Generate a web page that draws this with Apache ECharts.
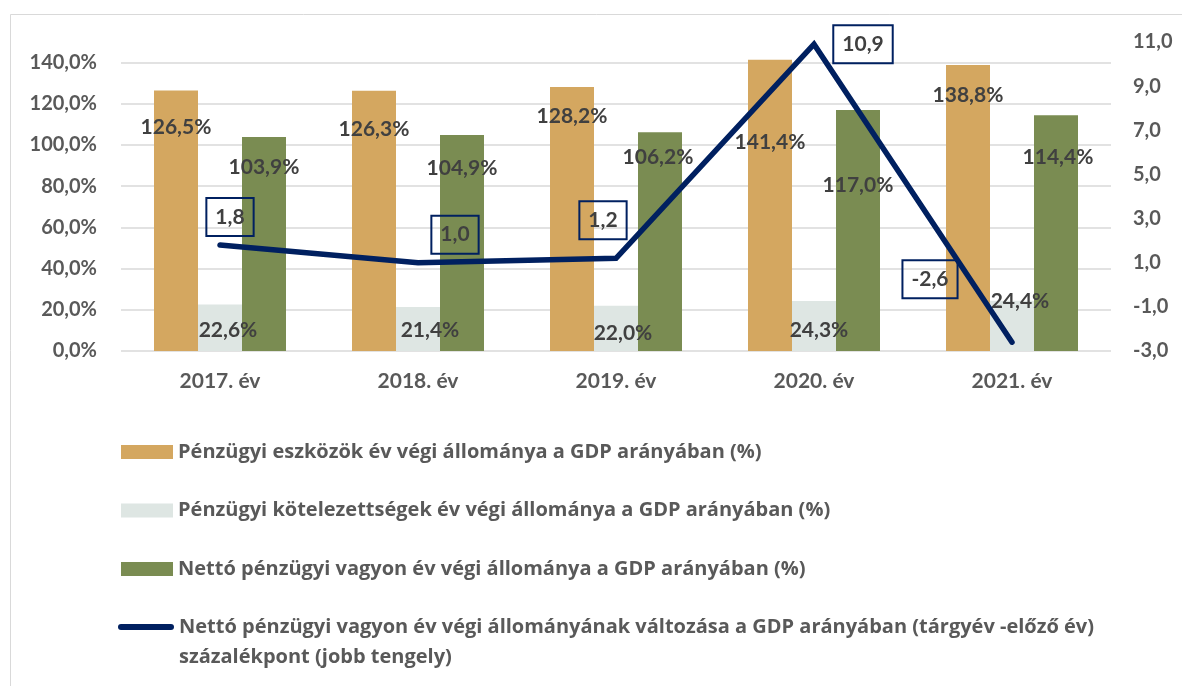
<!DOCTYPE html>
<html>
<head>
<meta charset="utf-8">
<script src="https://cdn.jsdelivr.net/npm/echarts@6/dist/echarts.min.js"></script>
<style>
html,body{margin:0;padding:0;background:#fff;}
#chart{width:1182px;height:686px;}
</style>
</head>
<body>
<div id="chart"></div>
<script>
// ---- data ----
const categories = ['2017. év', '2018. év', '2019. év', '2020. év', '2021. év'];
const assets = [126.5, 126.3, 128.2, 141.4, 138.8];
const liabilities = [22.6, 21.4, 22.0, 24.3, 24.4];
const netWealth = [103.9, 104.9, 106.2, 117.0, 114.4];
const netChange = [1.8, 1.0, 1.2, 10.9, -2.6];
const leftAxisRange = [0, 150, 20];   // min, max, interval (labels 0,0% … 140,0%)
const rightAxisRange = [-3, 11, 2];   // labels -3,0 … 11,0

const seriesNames = [
  'Pénzügyi eszközök év végi állománya a GDP arányában (%)',
  'Pénzügyi kötelezettségek év végi állománya a GDP arányában (%)',
  'Nettó pénzügyi vagyon év végi állománya a GDP arányában (%)',
  'Nettó pénzügyi vagyon év végi állományának változása a GDP arányában (tárgyév -előző év) százalékpont (jobb tengely)'
];

// ---- label placement (style only: [dx, dy] relative to bar top / point) ----
const assetLabelShift = [[0, 37], [0, 38], [0, 29], [0, 83], [0, 30]];
const liabLabelShift = [[8, 26], [12, 23], [7, 28], [5, 29], [8, 0]];
const netLabelShift = [[0, 30], [0, 33], [-2, 25], [0, 75], [2, 42]];
const changeLabelShift = [[10, -28], [37, -28], [-13, -38], [49, 0], [-82, -63]];

const FONT = 'Lato';
const LEGEND_FONT = 'Open Sans';
const labelColor = '#404040';
const axisColor = '#595959';

function pct(v) { return v.toFixed(1).replace('.', ',') + '%'; }
function num(v) { return v.toFixed(1).replace('.', ','); }

function barData(values, shifts) {
  return values.map((v, i) => ({
    value: v,
    label: {
      position: ['50%', shifts[i][1]],
      offset: [shifts[i][0], 0]
    }
  }));
}

const barLabel = {
  show: true,
  align: 'center',
  verticalAlign: 'middle',
  color: labelColor,
  fontFamily: FONT,
  fontWeight: 'bold',
  fontSize: 21,
  formatter: p => pct(p.value)
};

const chart = echarts.init(document.getElementById('chart'), null, {renderer: 'canvas'});

const option = {
  animation: false,
  backgroundColor: '#ffffff',
  graphic: [{
    type: 'rect',
    left: 8, top: 12,
    shape: {width: 1300, height: 800},
    style: {fill: 'none', stroke: '#d9d9d9', lineWidth: 1},
    silent: true,
    z: -1
  }],
  grid: {left: 121, right: 71, top: 42, bottom: 335, containLabel: false},
  legend: [{
    data: seriesNames.slice(0, 3),
    orient: 'vertical',
    left: 121, top: 441,
    padding: 0,
    itemWidth: 52, itemHeight: 14, itemGap: 36.5,
    icon: 'rect',
    textStyle: {fontFamily: LEGEND_FONT, fontWeight: 'bold', fontSize: 20, lineHeight: 22, color: axisColor}
  }, {
    data: [seriesNames[3]],
    orient: 'vertical',
    left: 118, top: 582,
    padding: 0,
    itemWidth: 56, itemHeight: 6,
    icon: 'path://M3,0 H53 A3,3 0 0 1 53,6 H3 A3,3 0 0 1 3,0 Z',
    formatter: n => '\n' + n.replace(' százalékpont', '\nszázalékpont'),
    textStyle: {fontFamily: LEGEND_FONT, fontWeight: 'bold', fontSize: 20, lineHeight: 30, color: axisColor}
  }],
  xAxis: {
    type: 'category',
    data: categories,
    axisLine: {show: false},
    axisTick: {show: false},
    axisLabel: {color: axisColor, fontFamily: FONT, fontWeight: 'bold', fontSize: 21, margin: 20}
  },
  yAxis: [{
    type: 'value',
    min: leftAxisRange[0], max: leftAxisRange[1], interval: leftAxisRange[2],
    axisLine: {show: false}, axisTick: {show: false},
    axisLabel: {color: axisColor, fontFamily: FONT, fontWeight: 'bold', fontSize: 20, margin: 24,
      showMaxLabel: false, formatter: v => pct(v)},
    splitLine: {show: true, showMaxLine: false, lineStyle: {color: '#d9d9d9', width: 1.5}}
  }, {
    type: 'value',
    min: rightAxisRange[0], max: rightAxisRange[1], interval: rightAxisRange[2],
    position: 'right',
    axisLine: {show: false}, axisTick: {show: false},
    splitLine: {show: false},
    axisLabel: {color: axisColor, fontFamily: FONT, fontWeight: 'bold', fontSize: 20, margin: 22,
      formatter: v => num(v)}
  }],
  series: [{
    name: seriesNames[0],
    type: 'bar',
    barWidth: 44, barGap: '0%',
    itemStyle: {color: '#D4A760'},
    label: barLabel,
    data: barData(assets, assetLabelShift),
    z: 2
  }, {
    name: seriesNames[1],
    type: 'bar',
    barWidth: 44, barGap: '0%',
    itemStyle: {color: '#DEE6E3'},
    label: barLabel,
    data: barData(liabilities, liabLabelShift),
    z: 2
  }, {
    name: seriesNames[2],
    type: 'bar',
    barWidth: 44, barGap: '0%',
    itemStyle: {color: '#7A8C52'},
    label: barLabel,
    data: barData(netWealth, netLabelShift),
    z: 2
  }, {
    name: seriesNames[3],
    type: 'line',
    yAxisIndex: 1,
    symbol: 'circle',
    symbolSize: 1,
    itemStyle: {color: '#002060'},
    lineStyle: {color: '#002060', width: 5.5, cap: 'round', join: 'miter'},
    label: {
      show: true,
      position: 'inside',
      align: 'center',
      verticalAlign: 'middle',
      color: labelColor,
      fontFamily: FONT,
      fontWeight: 'bold',
      fontSize: 21,
      lineHeight: 24,
      padding: [7, 9, 7, 9],
      borderColor: '#002060',
      borderWidth: 2,
      formatter: p => num(p.value)
    },
    data: netChange.map((v, i) => ({value: v, label: {offset: changeLabelShift[i]}})),
    z: 5
  }]
};

chart.setOption(option);
</script>
</body>
</html>
